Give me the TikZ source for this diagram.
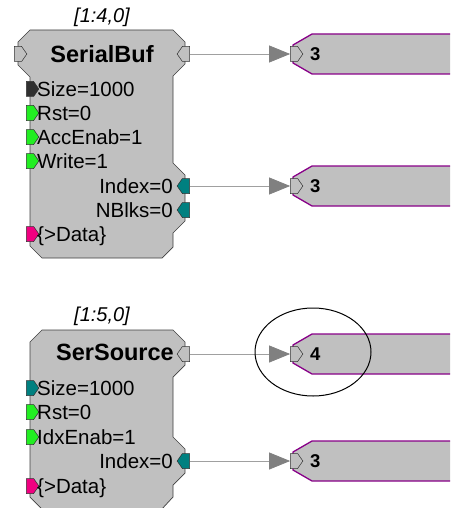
\documentclass[tikz,border=0pt]{standalone}
\usepackage{fontspec}
\setmainfont{Liberation Sans}
\usetikzlibrary{shapes.symbols,arrows.meta}
\definecolor{blockgray}{HTML}{C0C0C0}
\definecolor{portgreen}{HTML}{22EE22}
\definecolor{portteal}{HTML}{008080}
\definecolor{portpink}{HTML}{F00080}
\definecolor{portdark}{HTML}{303030}
\definecolor{wiregray}{HTML}{A0A0A0}
\definecolor{tipgray}{HTML}{808080}
\definecolor{tagpurple}{HTML}{880088}
\tikzset{
  body/.style={fill=blockgray,draw=black!75,line width=0.7pt},
  port/.style={signal,signal pointer angle=110,draw=black!80,line width=0.5pt,minimum width=12.5pt,minimum height=15pt,inner sep=0pt,fill=blockgray},
  inport/.style={port,signal to=east},
  outport/.style={port,signal to=west},
  lbl/.style={font=\fontsize{20.5}{24}\selectfont,text height=14.7pt,text depth=0pt,inner sep=0pt},
  blockname/.style={font=\fontsize{23.5}{27}\selectfont\bfseries,text height=16.8pt,text depth=0pt,inner sep=0pt},
  idtag/.style={font=\fontsize{20}{24}\selectfont\itshape,inner sep=0pt},
  tagbox/.style={fill=blockgray,draw=tagpurple,line width=1.3pt},
  num/.style={font=\fontsize{18.5}{22}\selectfont\bfseries,text height=13.2pt,text depth=0pt,inner sep=0pt},
  wire/.style={draw=wiregray,line width=0.8pt,-{Triangle[length=21pt,width=17pt,color=tipgray]}},
}
\begin{document}
\begin{tikzpicture}[x=1pt,y=-1pt,line join=miter]
\useasboundingbox (0,0) rectangle (450,508);
\clip (0,0) rectangle (450,508);
% SerialBuf
\begin{scope}
\node[idtag] (sbTag) at (102,17) {[1:4,0]};
\draw[body] (30,30) -- (173,30) -- (185,42) -- (185,64) -- (173,76) -- (173,163) -- (185,175) -- (185,221) -- (173,233) -- (173,247) -- (162,258) -- (42,258) -- (30,246) -- (30,77) -- (18,65) -- (18,42) -- cycle;
\node[blockname] (sbName) at (102,54) {SerialBuf};
\node[inport] (sbIn) at (18,54) {};
\node[outport] (sbOut) at (186,54) {};
\node[inport,fill=portdark] (sbSize) at (30,89) {};
\node[inport,fill=portgreen] (sbRst) at (30,113) {};
\node[inport,fill=portgreen] (sbAcc) at (30,137) {};
\node[inport,fill=portgreen] (sbWrite) at (30,161) {};
\node[inport,fill=portpink] (sbData) at (30,234) {};
\node[outport,fill=portteal] (sbIdx) at (186,186) {};
\node[outport,fill=portteal] (sbBlk) at (186,210) {};
\node[lbl,anchor=west] at (37,89) {Size=1000};
\node[lbl,anchor=west] at (37,113) {Rst=0};
\node[lbl,anchor=west] at (37,137) {AccEnab=1};
\node[lbl,anchor=west] at (37,161) {Write=1};
\node[lbl,anchor=east] at (173,186) {Index=0};
\node[lbl,anchor=east] at (173,210) {NBlks=0};
\node[lbl,anchor=west] at (37,234) {\{>Data\}};
\end{scope}
% SerSource
\begin{scope}[shift={(0,300)}]
\node[idtag] (ssTag) at (102,16) {[1:5,0]};
\draw[body] (42,30) -- (173,30) -- (185,42) -- (185,65) -- (173,77) -- (173,137) -- (185,149) -- (185,173) -- (173,185) -- (173,197) -- (161,210) -- (43,210) -- (30,197) -- (30,42) -- cycle;
\node[blockname] (ssName) at (115,52) {SerSource};
\node[outport] (ssOut) at (186,54) {};
\node[inport,fill=portteal] (ssSize) at (30,88) {};
\node[inport,fill=portgreen] (ssRst) at (30,112) {};
\node[inport,fill=portgreen] (ssIdxEn) at (30,137) {};
\node[inport,fill=portpink] (ssData) at (30,186) {};
\node[outport,fill=portteal] (ssIdx) at (186,161) {};
\node[lbl,anchor=west] at (37,88) {Size=1000};
\node[lbl,anchor=west] at (37,112) {Rst=0};
\node[lbl,anchor=west] at (37,137) {IdxEnab=1};
\node[lbl,anchor=east] at (173,161) {Index=0};
\node[lbl,anchor=west] at (37,186) {\{>Data\}};
\end{scope}
% tags on the right
\foreach \ty/\val/\nm in {54/3/inA,186/3/inB,354/4/inC,461/3/inD}{
  \draw[tagbox] (312,\ty-20) -- (460,\ty-20) -- (460,\ty+20) -- (312,\ty+20) -- (293,\ty+9) -- (293,\ty-9) -- cycle;
  \node[inport] (\nm) at (294,\ty) {};
  \node[num,anchor=west] (\nm v) at (310,\ty) {\val};
}
% wires
\draw[wire] (sbOut.east) -- (inA.west);
\draw[wire] (sbIdx.east) -- (inB.west);
\draw[wire] (ssOut.east) -- (inC.west);
\draw[wire] (ssIdx.east) -- (inD.west);
\draw[line width=1pt] ([shift={(19,-2)}]inC.center) ellipse [x radius=58,y radius=44];
\end{tikzpicture}
\end{document}
